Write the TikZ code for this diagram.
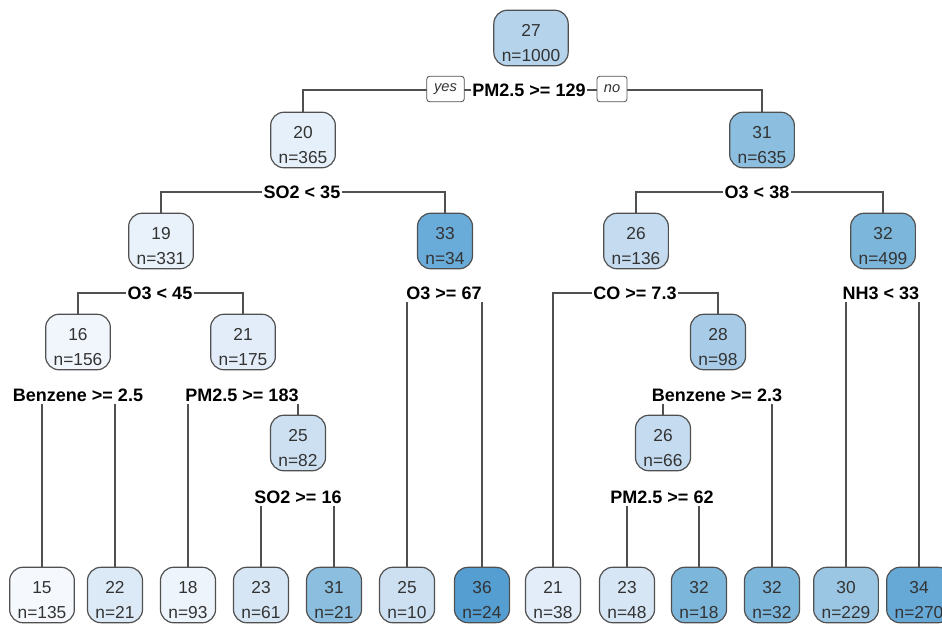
\documentclass[tikz,border=0pt]{standalone}
\usepackage{fontspec}
\setmainfont{Liberation Sans}
\usetikzlibrary{backgrounds}

\definecolor{edgegray}{HTML}{505050}
\definecolor{textgray}{HTML}{333333}
\definecolor{c15}{HTML}{F5F9FE}
\definecolor{c16}{HTML}{F1F6FD}
\definecolor{c18}{HTML}{EDF4FC}
\definecolor{c19}{HTML}{E9F2FB}
\definecolor{c20}{HTML}{E6F0FA}
\definecolor{c21}{HTML}{E2EDF9}
\definecolor{c22}{HTML}{DCE9F7}
\definecolor{c23}{HTML}{D6E6F5}
\definecolor{c25}{HTML}{CCE0F2}
\definecolor{c26}{HTML}{C4DBF0}
\definecolor{c27}{HTML}{B5D3EB}
\definecolor{c28}{HTML}{A8CCE7}
\definecolor{c30}{HTML}{9BC6E3}
\definecolor{c31}{HTML}{8BBEDF}
\definecolor{c32}{HTML}{7DB6DB}
\definecolor{c33}{HTML}{6AACD9}
\definecolor{c34}{HTML}{66A9D7}
\definecolor{c36}{HTML}{559ED2}

\tikzset{
  tnode/.style={draw=edgegray, line width=0.9pt, rounded corners=10pt, align=center,
    inner xsep=6pt, inner ysep=3pt, text=textgray, font=\fontsize{13}{19}\selectfont},
  split/.style={fill=white, inner xsep=1pt, inner ysep=2pt, font=\bfseries\fontsize{13.5}{15}\selectfont},
  yesno/.style={draw=edgegray, line width=0.6pt, fill=white, rounded corners=2pt, inner xsep=2.5pt,
    minimum height=19pt, text=textgray, font=\itshape\fontsize{11}{12}\selectfont},
  branch/.style={draw=edgegray, line width=0.9pt}
}
\newcommand{\tstrut}{\rule{0pt}{16.5pt}}

\begin{document}
\begin{tikzpicture}[x=0.75pt,y=0.75pt,yscale=-1,xscale=1]
\useasboundingbox (0,0) rectangle (942,625);

%Inner nodes
\node [tnode, fill=c27] (n1) at (531,38) {\tstrut 27\\n=1000};
\node [tnode, fill=c20] (n2) at (303,140) {\tstrut 20\\n=365};
\node [tnode, fill=c31] (n3) at (762,140) {\tstrut 31\\n=635};
\node [tnode, fill=c19] (n4) at (161,241) {\tstrut 19\\n=331};
\node [tnode, fill=c33] (n5) at (445,241) {\tstrut 33\\n=34};
\node [tnode, fill=c26] (n6) at (636,241) {\tstrut 26\\n=136};
\node [tnode, fill=c32] (n7) at (883,241) {\tstrut 32\\n=499};
\node [tnode, fill=c16] (n8) at (78,342) {\tstrut 16\\n=156};
\node [tnode, fill=c21] (n9) at (243,342) {\tstrut 21\\n=175};
\node [tnode, fill=c28] (n10) at (718,342) {\tstrut 28\\n=98};
\node [tnode, fill=c25] (n11) at (298,443) {\tstrut 25\\n=82};
\node [tnode, fill=c26] (n12) at (663,443) {\tstrut 26\\n=66};

%Leaf nodes
\node [tnode, fill=c15] (l1) at (42,595) {\tstrut 15\\n=135};
\node [tnode, fill=c22] (l2) at (115,595) {\tstrut 22\\n=21};
\node [tnode, fill=c18] (l3) at (188,595) {\tstrut 18\\n=93};
\node [tnode, fill=c23] (l4) at (261,595) {\tstrut 23\\n=61};
\node [tnode, fill=c31] (l5) at (334,595) {\tstrut 31\\n=21};
\node [tnode, fill=c25] (l6) at (407,595) {\tstrut 25\\n=10};
\node [tnode, fill=c36] (l7) at (482,595) {\tstrut 36\\n=24};
\node [tnode, fill=c21] (l8) at (553,595) {\tstrut 21\\n=38};
\node [tnode, fill=c23] (l9) at (627,595) {\tstrut 23\\n=48};
\node [tnode, fill=c32] (l10) at (699,595) {\tstrut 32\\n=18};
\node [tnode, fill=c32] (l11) at (772,595) {\tstrut 32\\n=32};
\node [tnode, fill=c30] (l12) at (846,595) {\tstrut 30\\n=229};
\node [tnode, fill=c34] (l13) at (919,595) {\tstrut 34\\n=270};

% Split labels
\node [split] (s1) at (529,90) {PM2.5 >= 129};
\node [yesno, minimum width=28pt] (yes) at (445.5,89) {yes};
\node [yesno, minimum width=22.5pt] (no) at (612,89) {no};
\node [split] (s2) at (302,192) {SO2 < 35};
\node [split] (s3) at (757,192) {O3 < 38};
\node [split] (s4) at (160,293) {O3 < 45};
\node [split] (s5) at (444,293) {O3 >= 67};
\node [split] (s6) at (635,293) {CO >= 7.3};
\node [split] (s7) at (881,293) {NH3 < 33};
\node [split] (s8) at (78,395) {Benzene >= 2.5};
\node [split] (s9) at (242,395) {PM2.5 >= 183};
\node [split] (s10) at (717,395) {Benzene >= 2.3};
\node [split] (s11) at (298,497) {SO2 >= 16};
\node [split] (s12) at (662,497) {PM2.5 >= 62};

% Branches
\begin{scope}[on background layer]
\draw [branch] (s1.center) -| (n2.north);
\draw [branch] (s1.center) -| (n3.north);
\draw [branch] (s2.center) -| (n4.north);
\draw [branch] (s2.center) -| (n5.north);
\draw [branch] (s3.center) -| (n6.north);
\draw [branch] (s3.center) -| (n7.north);
\draw [branch] (s4.center) -| (n8.north);
\draw [branch] (s4.center) -| (n9.north);
\draw [branch] (s6.center) -| (l8.north);
\draw [branch] (s6.center) -| (n10.north);
%drops straight under the label
\draw [branch] (s5.south -| l6.north) -- (l6.north);
\draw [branch] (s5.south -| l7.north) -- (l7.north);
\draw [branch] (s7.south -| l12.north) -- (l12.north);
\draw [branch] (s7.south -| l13.north) -- (l13.north);
\draw [branch] (s8.south -| l1.north) -- (l1.north);
\draw [branch] (s8.south -| l2.north) -- (l2.north);
\draw [branch] (s9.south -| l3.north) -- (l3.north);
\draw [branch] (s9.south -| n11.north) -- (n11.north);
\draw [branch] (s10.south -| n12.north) -- (n12.north);
\draw [branch] (s10.south -| l11.north) -- (l11.north);
\draw [branch] (s11.south -| l4.north) -- (l4.north);
\draw [branch] (s11.south -| l5.north) -- (l5.north);
\draw [branch] (s12.south -| l9.north) -- (l9.north);
\draw [branch] (s12.south -| l10.north) -- (l10.north);
\end{scope}

\end{tikzpicture}
\end{document}
